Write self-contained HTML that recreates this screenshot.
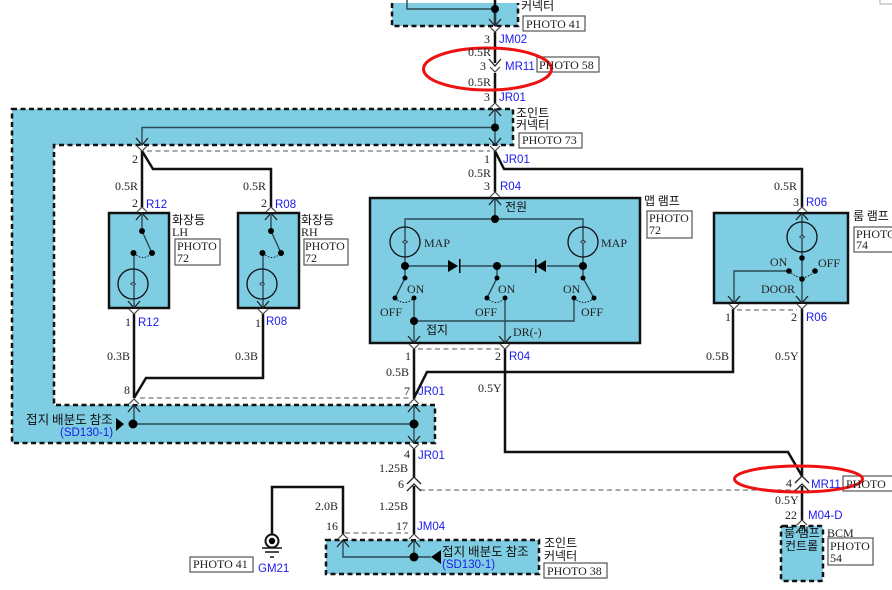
<!DOCTYPE html>
<html><head><meta charset="utf-8">
<style>
html,body{margin:0;padding:0;background:#fff;width:892px;height:590px;overflow:hidden}
svg{display:block}
text{font-family:"Liberation Serif","Noto Sans CJK KR",serif;font-size:12px;fill:#222}
.b{font-family:"Liberation Sans",sans-serif;font-size:11.5px;fill:#1a1aee}
.k{font-family:"Noto Sans CJK KR","NanumGothic",sans-serif;font-size:12px;fill:#111}
.k2{font-size:12.6px}
.w{fill:none;stroke:#111;stroke-width:2.5}
.t{fill:none;stroke:#2a4a55;stroke-width:1.4}
.d{fill:none;stroke:#777;stroke-width:1.2;stroke-dasharray:5 3.5}
.blue{fill:#7fcde2;stroke:#111;stroke-width:2.5;stroke-dasharray:5 3.5}
.box{fill:#7fcde2;stroke:#111;stroke-width:2.5}
.p{fill:#fff;stroke:#555;stroke-width:1.2}
.a{fill:none;stroke:#111;stroke-width:1;stroke-dasharray:1.5 1.5}
</style></head><body>
<svg width="892" height="590" viewBox="0 0 892 590" xmlns="http://www.w3.org/2000/svg">
<defs>
<g id="dn"><path d="M-5,1 L0,6 L5,1" fill="#fff" stroke="#444" stroke-width="1.2"/><path d="M-6,-7 L0,0 L6,-7" fill="none" stroke="#222" stroke-width="1.3"/></g>
<g id="bulb"><circle r="15" fill="none" stroke="#111" stroke-width="1.3"/><path d="M-2.500,0 C-1,-2 1.500,-1.500 2.500,0 C1,1.500 -1,1.500 -2.500,0" fill="#7fcde2" stroke="#222" stroke-width="0.8"/></g>
</defs>

<!-- blue areas -->
<path class="blue" d="M392,3 V26 H518 V3"/>
<path class="blue" d="M12,109 H513 V145 H54 V405 H435 V443 H12 Z"/>
<rect class="blue" x="326" y="540" width="213" height="34"/>
<rect class="blue" x="781" y="526" width="42" height="55" rx="2"/>
<rect class="box" x="109" y="213" width="60" height="95"/>
<rect class="box" x="238" y="213" width="61" height="95"/>
<rect class="box" x="370" y="198" width="270" height="145"/>
<rect class="box" x="714" y="213" width="134" height="90"/>

<!-- dashed links -->
<path class="d" d="M147,151 H490 M418,349 H500 M737,310 H797 M140,398 H410 M420,490 H795 M345,533 H408"/>

<!-- wires -->
<path class="w" d="M495,0 V26 M495,32 V63 M495,73 V103 M495,151 V192 M142,151 V207 M142,151 L153,169 H271 V207 M495,151 L504,169 H802 V207
M134,314 V398 M134,398 L146,378 H263 V314 M414,349 V399 M414,398 L427,372 H733 V309 M505,349 V452 H788 L802,476 M802,309 V476 M802,486 V520
M414,449 V478 M414,486 V534 M343,534 V487 H272 V534"/>

<!-- inner thin lines -->
<path class="t" d="M407,0 V9 H495 M495,9 V26 M142,145 V127.5 H495 M495,109 V145"/>
<path class="t" d="M142,213 V231 L152,253 M134,253 V308 M271,213 V231 L281,253 M263,253 V308"/>
<path class="t" d="M495,198 V219 M405,242 V219 H583 V242 M405,242 V278 L395,298 M583,242 V278 L594,298 M497,266 V278 L487,298 M405,266 H448 M459,266 H537 M547,266 H583 M414,298 V343 M414,321 H574 V298 M505,298 V343"/>
<path class="t" d="M802,213 V303 M789,271 H734 V303"/>
<path class="t" d="M134,405 V424 H414 M414,405 V443 M343,540 V557 H431 M414,540 V557"/>

<!-- dotted arcs -->
<path class="a" d="M134,253 Q143,262 152,253 M263,253 Q272,262 281,253 M395,298 Q404,307 414,298 M487,298 Q496,307 505,298 M574,298 Q584,307 594,298 M789,271 Q802,284 815,271"/>

<!-- bulbs -->
<use href="#bulb" x="133" y="284"/><use href="#bulb" x="262" y="284"/>
<use href="#bulb" x="405" y="242"/><use href="#bulb" x="583" y="242"/>
<use href="#bulb" x="802" y="237"/>

<!-- dots -->
<g fill="#000">
<circle cx="495" cy="9" r="4"/><circle cx="495" cy="127.5" r="4"/>
<circle cx="142" cy="231" r="3"/><circle cx="152" cy="253" r="3"/><circle cx="133.500" cy="253" r="3"/>
<circle cx="271" cy="231" r="3"/><circle cx="281" cy="253" r="3"/><circle cx="262.500" cy="253" r="3"/>
<circle cx="495" cy="219" r="4"/><circle cx="405" cy="266" r="4"/><circle cx="497" cy="266" r="4"/><circle cx="583" cy="266" r="4"/>
<circle cx="405" cy="278" r="2.500"/><circle cx="395" cy="298" r="2.500"/><circle cx="414" cy="298" r="2.500"/>
<circle cx="497" cy="278" r="2.500"/><circle cx="487" cy="298" r="2.500"/><circle cx="505" cy="298" r="2.500"/>
<circle cx="583" cy="278" r="2.500"/><circle cx="574" cy="298" r="2.500"/><circle cx="594" cy="298" r="2.500"/>
<circle cx="414" cy="321" r="4"/>
<circle cx="802" cy="258" r="2.800"/><circle cx="789" cy="271" r="2.800"/><circle cx="815" cy="271" r="2.800"/><circle cx="802" cy="279" r="2.800"/>
<circle cx="133" cy="424" r="4.500"/><circle cx="414" cy="424" r="4.500"/><circle cx="414" cy="557" r="4.500"/>
<path d="M448,260 L458,266 L448,272 Z M459,259 h1.500 v14 h-1.500 Z M546,260 L536,266 L546,272 Z M535,259 h1.500 v14 h-1.500 Z"/>
<path d="M116,418 L124,424 L116,431 Z M431,557 L441,550 V564 Z"/>
</g>

<!-- connectors -->
<use href="#dn" x="495" y="26"/><use href="#dn" x="495" y="66"/>
<use href="#dn" x="142" y="145"/><use href="#dn" x="495" y="145"/>
<use href="#dn" x="134" y="308"/><use href="#dn" x="263" y="308"/>
<use href="#dn" x="414" y="343"/><use href="#dn" x="505" y="343"/>
<use href="#dn" x="734" y="303"/><use href="#dn" x="802" y="303"/>
<use href="#dn" x="414" y="443"/>
<use href="#dn" transform="translate(495,109) scale(1,-1)"/>
<use href="#dn" transform="translate(495,198) scale(1,-1)"/>
<use href="#dn" transform="translate(142,213) scale(1,-1)"/>
<use href="#dn" transform="translate(271,213) scale(1,-1)"/>
<use href="#dn" transform="translate(802,213) scale(1,-1)"/>
<use href="#dn" transform="translate(134,405) scale(1,-1)"/>
<use href="#dn" transform="translate(414,405) scale(1,-1)"/>
<use href="#dn" transform="translate(343,540) scale(1,-1)"/>
<use href="#dn" transform="translate(414,540) scale(1,-1)"/>
<use href="#dn" transform="translate(802,526) scale(1,-1)"/>
<path d="M407,484 L414,477 L421,484 M407,491 L414,484 L421,491 M795,483 L802,476 L809,483 M795,491 L802,484 L809,491" fill="none" stroke="#222" stroke-width="1.300"/>

<!-- ground -->
<circle cx="272" cy="541" r="6.500" fill="#fff" stroke="#111" stroke-width="2"/><circle cx="272" cy="541" r="3.200" fill="#000"/>
<path d="M262,548 H282 M265,552 H279 M270,557 H274" stroke="#111" stroke-width="1.500"/>

<!-- photo boxes -->
<rect class="p" x="523" y="16" width="62" height="15"/>
<rect class="p" x="537" y="57" width="62" height="15"/>
<rect class="p" x="519" y="133" width="63" height="15"/>
<rect class="p" x="175" y="239" width="45" height="26"/>
<rect class="p" x="304" y="239" width="44" height="26"/>
<rect class="p" x="647" y="211" width="45" height="27"/>
<rect class="p" x="854" y="227" width="45" height="25"/>
<rect class="p" x="190" y="557" width="63" height="15"/>
<rect class="p" x="544" y="563" width="63" height="15"/>
<rect class="p" x="828" y="538" width="45" height="27"/>
<rect class="p" x="843" y="476" width="55" height="15"/>
<path d="M880,0 V4 H892" fill="none" stroke="#aaa" stroke-width="1"/>

<!-- red ellipses -->
<ellipse cx="487.500" cy="69" rx="64" ry="21" fill="none" stroke="#ee1111" stroke-width="3"/>
<ellipse cx="798.500" cy="479" rx="64" ry="13" fill="none" stroke="#ee1111" stroke-width="3"/>

<!-- serif labels -->
<text x="526" y="28">PHOTO 41</text><text x="539" y="69">PHOTO 58</text><text x="522" y="144">PHOTO 73</text>
<text x="177" y="250">PHOTO</text><text x="177" y="262">72</text>
<text x="305" y="250">PHOTO</text><text x="305" y="262">72</text>
<text x="649" y="222">PHOTO</text><text x="649" y="234">72</text>
<text x="856" y="238">PHOTO</text><text x="856" y="249">74</text>
<text x="193" y="568">PHOTO 41</text><text x="547" y="575">PHOTO 38</text>
<text x="830" y="550">PHOTO</text><text x="830" y="562">54</text>
<text x="846" y="488">PHOTO</text><text x="827" y="537">BCM</text>

<text x="484" y="43">3</text><text x="468" y="56">0.5R</text><text x="480" y="70">3</text><text x="468" y="86">0.5R</text><text x="484" y="101">3</text>
<text x="484" y="163">1</text><text x="468" y="177">0.5R</text><text x="484" y="190">3</text>
<text x="132" y="163">2</text><text x="115" y="190">0.5R</text><text x="243" y="190">0.5R</text><text x="774" y="190">0.5R</text>
<text x="132" y="207">2</text><text x="261" y="207">2</text><text x="793" y="206">3</text>
<text x="172" y="236">LH</text><text x="301" y="236">RH</text>
<text x="125" y="326">1</text><text x="255" y="327">1</text><text x="725" y="321">1</text><text x="791" y="321">2</text>
<text x="107" y="360">0.3B</text><text x="235" y="360">0.3B</text>
<text x="405" y="360">1</text><text x="495" y="360">2</text><text x="386" y="376">0.5B</text><text x="478" y="392">0.5Y</text>
<text x="706" y="360">0.5B</text><text x="775" y="360">0.5Y</text>
<text x="124" y="394">8</text><text x="404" y="395">7</text><text x="404" y="458">4</text>
<text x="379" y="472">1.25B</text><text x="398" y="488">6</text><text x="379" y="510">1.25B</text><text x="315" y="510">2.0B</text>
<text x="396" y="530">17</text><text x="326" y="530">16</text>
<text x="786" y="487">4</text><text x="775" y="504">0.5Y</text><text x="785" y="519">22</text>
<text x="424" y="247">MAP</text><text x="601" y="247">MAP</text>
<text x="407" y="293">ON</text><text x="498" y="293">ON</text><text x="563" y="293">ON</text>
<text x="380" y="316">OFF</text><text x="475" y="316">OFF</text><text x="581" y="316">OFF</text>
<text x="513" y="336">DR(-)</text>
<text x="770" y="266">ON</text><text x="818" y="267">OFF</text><text x="761" y="293">DOOR</text>

<!-- blue labels -->
<text class="b" x="499" y="43">JM02</text><text class="b" x="505" y="70">MR11</text><text class="b" x="499" y="101">JR01</text>
<text class="b" x="503" y="163">JR01</text><text class="b" x="500" y="190">R04</text>
<text class="b" x="146" y="208">R12</text><text class="b" x="275" y="208">R08</text><text class="b" x="806" y="206">R06</text>
<text class="b" x="138" y="326">R12</text><text class="b" x="266" y="325">R08</text>
<text class="b" x="509" y="360">R04</text><text class="b" x="806" y="321">R06</text>
<text class="b" x="418" y="395">JR01</text><text class="b" x="418" y="459">JR01</text><text class="b" x="417" y="530">JM04</text>
<text class="b" x="258" y="572">GM21</text><text class="b" x="60" y="436">(SD130-1)</text><text class="b" x="442" y="568">(SD130-1)</text>
<text class="b" x="811" y="488">MR11</text><text class="b" x="808" y="519">M04-D</text>

<!-- Korean labels -->
<text class="k" x="521" y="10">커넥터</text>
<text class="k" x="516" y="117">조인트</text><text class="k" x="516" y="129">커넥터</text>
<text class="k" x="172" y="224">화장등</text><text class="k" x="301" y="224">화장등</text>
<text class="k" x="505" y="211">전원</text><text class="k" x="426" y="334">접지</text>
<text class="k" x="644" y="205">맵 램프</text><text class="k" x="853" y="220">룸 램프</text>
<text class="k k2" x="26" y="424">접지 배분도 참조</text><text class="k k2" x="442" y="556">접지 배분도 참조</text>
<text class="k" x="544" y="547">조인트</text><text class="k" x="544" y="560">커넥터</text>
<text class="k" x="784" y="537">룸 램프</text><text class="k" x="785" y="550">컨트롤</text>
</svg>
</body></html>
